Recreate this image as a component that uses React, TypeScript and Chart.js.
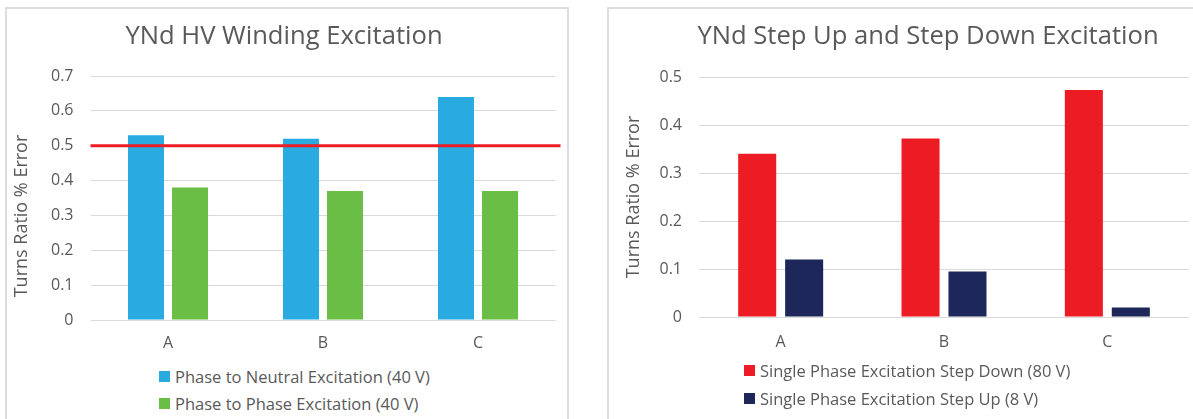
import React, { useEffect, useRef } from "react";
import { Chart, registerables } from "chart.js";

Chart.register(...registerables);

const FONT = "'Open Sans', 'Noto Sans', sans-serif";
const TEXT = "#595959";
const GRID = "#d9d9d9";

// ---- data ----
const categories = ["A", "B", "C"];

const leftTitle = "YNd HV Winding Excitation";
const leftSeriesNames = ["Phase to Neutral Excitation (40 V)", "Phase to Phase Excitation (40 V)"];
const phaseToNeutral = [0.53, 0.52, 0.64];
const phaseToPhase = [0.38, 0.37, 0.37];
const limitValue = 0.5;
const leftMax = 0.7;

const rightTitle = "YNd Step Up and Step Down Excitation";
const rightSeriesNames = ["Single Phase Excitation Step Down (80 V)", "Single Phase Excitation Step Up (8 V)"];
const stepDown = [0.34, 0.372, 0.473];
const stepUp = [0.12, 0.095, 0.02];
const rightMax = 0.5;

const yAxisTitle = "Turns Ratio % Error";
const tickStep = 0.1;

const leftColors = ["#29abe2", "#6abd45"];
const rightColors = ["#ed1c24", "#1e2759"];

function axisTitlePlugin(x: number, offset: number) {
  return {
    id: "axisTitle",
    afterDraw(chart: any) {
      const { ctx, chartArea } = chart;
      ctx.save();
      ctx.translate(x, (chartArea.top + chartArea.bottom) / 2 + offset);
      ctx.rotate(-Math.PI / 2);
      ctx.textAlign = "center";
      ctx.textBaseline = "middle";
      ctx.font = `18px ${FONT}`;
      ctx.fillStyle = TEXT;
      ctx.fillText(yAxisTitle, 0, 0);
      ctx.restore();
    },
  };
}

function makeConfig(opts: any) {
  const { title, names, series, colors, max, yWidth, padRight, padBottom, titleBottom, catPct, barPct, xPad, plugins } = opts;
  return {
    type: "bar",
    data: {
      labels: categories,
      datasets: series.map((d: number[], i: number) => ({
        label: names[i],
        data: d,
        backgroundColor: colors[i],
        borderWidth: 0,
        categoryPercentage: catPct,
        barPercentage: barPct,
      })),
    },
    options: {
      responsive: false,
      animation: false,
      devicePixelRatio: 1,
      layout: { padding: { left: 0, right: 0, top: 0, bottom: padBottom } },
      plugins: {
        legend: { display: false },
        tooltip: { enabled: false },
        title: {
          display: true,
          text: title,
          color: TEXT,
          font: { family: FONT, size: 25.6, weight: "normal", lineHeight: 1.2 },
          padding: { top: 12, bottom: titleBottom },
        },
      },
      scales: {
        x: {
          grid: { display: false, drawTicks: false },
          border: { display: false },
          ticks: { color: TEXT, font: { family: FONT, size: 16 }, padding: xPad },
          afterFit: (s: any) => {
            s.height = 38;
          },
        },
        y: {
          min: 0,
          max: max,
          grid: { color: GRID, lineWidth: 1, drawTicks: false },
          border: { display: false },
          ticks: {
            stepSize: tickStep,
            color: TEXT,
            font: { family: FONT, size: 16 },
            padding: 17,
            callback: (v: any) => String(Number(Number(v).toFixed(1))),
          },
          title: { display: false },
          afterFit: (s: any) => {
            s.width = yWidth;
          },
        },
        yr: {
          position: "right",
          display: true,
          grid: { display: false, drawTicks: false },
          border: { display: false },
          ticks: { display: false },
          afterFit: (s: any) => {
            s.width = padRight;
          },
        },
      },
    },
    plugins: plugins || [],
  };
}

const limitLinePlugin = {
  id: "limitLine",
  afterDatasetsDraw(chart: any) {
    const { ctx, chartArea, scales } = chart;
    const y = scales.y.getPixelForValue(limitValue);
    ctx.save();
    ctx.strokeStyle = "#ee1c25";
    ctx.lineWidth = 3;
    ctx.beginPath();
    ctx.moveTo(chartArea.left, y);
    ctx.lineTo(chartArea.right + 5, y);
    ctx.stroke();
    ctx.restore();
  },
};

function BarChart({ config, left, top, width, height }: any) {
  const ref = useRef<HTMLCanvasElement | null>(null);
  useEffect(() => {
    if (!ref.current) return;
    const chart = new Chart(ref.current, config);
    return () => chart.destroy();
  }, []);
  return (
    <canvas
      ref={ref}
      width={width}
      height={height}
      style={{ position: "absolute", left, top, width, height }}
    />
  );
}

function Legend({ names, colors, left, centers }: any) {
  return (
    <>
      {names.map((n: string, i: number) => (
        <div
          key={n}
          style={{
            position: "absolute",
            left,
            top: centers[i] - 12,
            height: 24,
            display: "flex",
            alignItems: "center",
            whiteSpace: "nowrap",
            fontFamily: FONT,
            fontSize: 16.5,
            color: TEXT,
          }}
        >
          <span style={{ display: "inline-block", width: 11, height: 11, background: colors[i], marginRight: 5 }} />
          <span>{n}</span>
        </div>
      ))}
    </>
  );
}

export default function App() {
  const leftConfig = makeConfig({
    title: leftTitle,
    names: leftSeriesNames,
    series: [phaseToNeutral, phaseToPhase],
    colors: leftColors,
    max: leftMax,
    yWidth: 83.5,
    padRight: 5.5,
    padBottom: 1,
    titleBottom: 24.3,
    catPct: 0.568,
    barPct: 0.818,
    xPad: 14,
    plugins: [limitLinePlugin, axisTitlePlugin(15, 18)],
  });
  const rightConfig = makeConfig({
    title: rightTitle,
    names: rightSeriesNames,
    series: [stepDown, stepUp],
    colors: rightColors,
    max: rightMax,
    yWidth: 90,
    padRight: 58,
    padBottom: 4,
    titleBottom: 25.3,
    catPct: 0.575,
    barPct: 0.81,
    xPad: 16,
    plugins: [axisTitlePlugin(25, 0)],
  });
  return (
    <div
      style={{
        position: "absolute",
        left: 0,
        top: 0,
        width: 1193,
        height: 419,
        overflow: "hidden",
        background: "#ffffff",
      }}
    >
      <div
        style={{
          position: "absolute",
          left: 5,
          top: 7,
          width: 564,
          height: 430,
          border: "2px solid #dadde1",
          boxSizing: "border-box",
        }}
      />
      <div
        style={{
          position: "absolute",
          left: 607,
          top: 7,
          width: 652,
          height: 430,
          border: "2px solid #dadde1",
          boxSizing: "border-box",
        }}
      />
      <BarChart config={leftConfig} left={7} top={9} width={554} height={350} />
      <BarChart config={rightConfig} left={609} top={9} width={638} height={350} />
      <Legend names={leftSeriesNames} colors={leftColors} left={159} centers={[376, 403]} />
      <Legend names={rightSeriesNames} colors={rightColors} left={744} centers={[370, 398]} />
    </div>
  );
}
